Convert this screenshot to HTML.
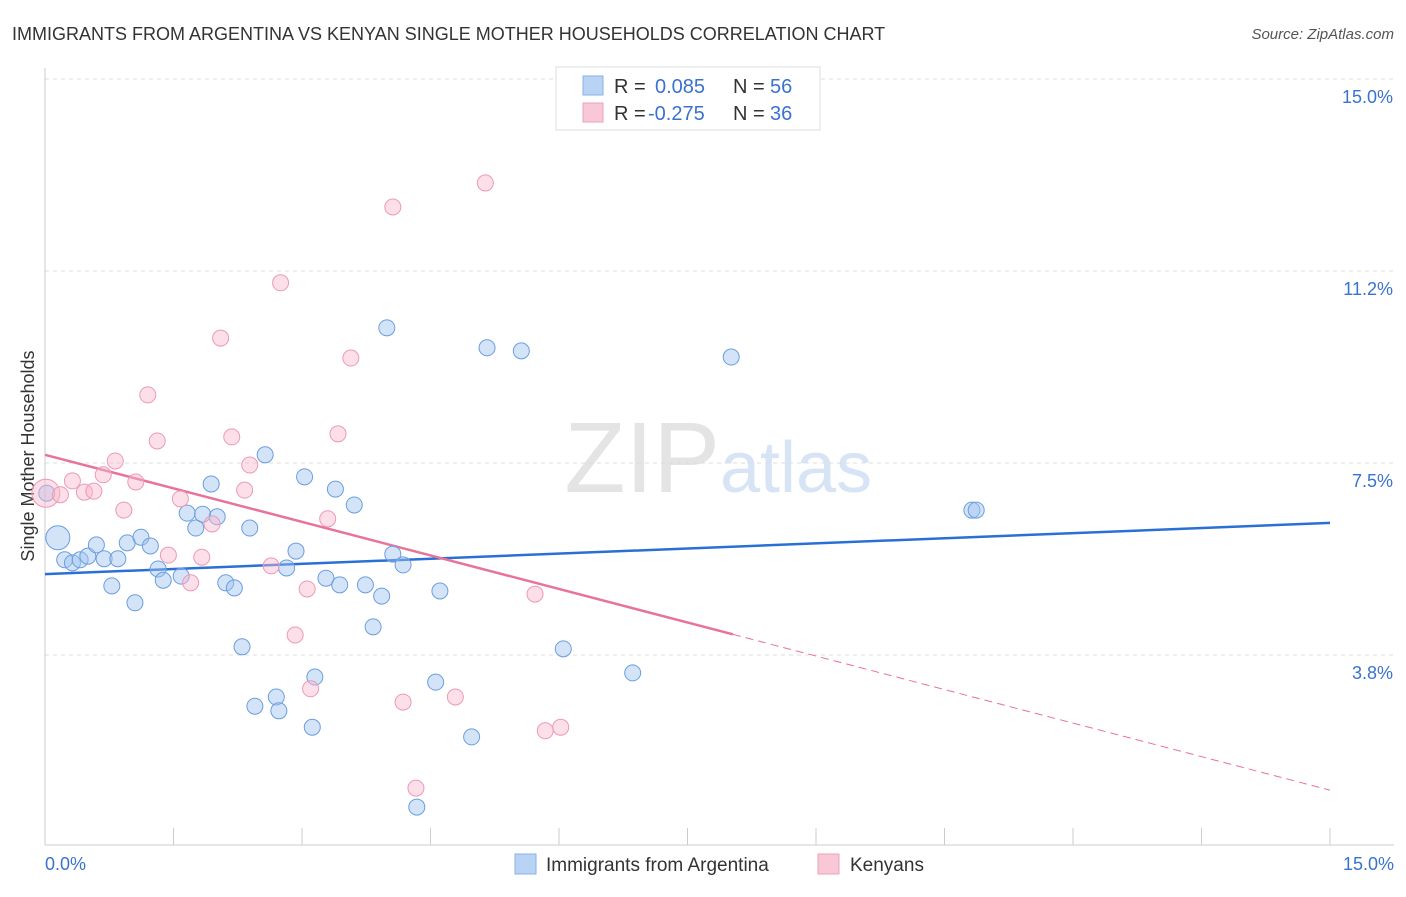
<!DOCTYPE html>
<html><head><meta charset="utf-8"><style>
body{margin:0;background:#fff;font-family:"Liberation Sans",sans-serif;}
svg text{font-family:"Liberation Sans",sans-serif;}
</style></head><body>
<svg id="chart" width="1406" height="892" xmlns="http://www.w3.org/2000/svg">
<text x="12" y="40" font-size="18" fill="#333">IMMIGRANTS FROM ARGENTINA VS KENYAN SINGLE MOTHER HOUSEHOLDS CORRELATION CHART</text>
<text x="1394" y="39" font-size="15" fill="#555" font-style="italic" text-anchor="end">Source: ZipAtlas.com</text>
<text x="720" y="492" font-size="100" fill="#e4e4e4" text-anchor="end" font-family="Liberation Serif">ZIP</text>
<text x="720" y="492" font-size="72" fill="#d6e4f5">atlas</text>
<text transform="translate(34,456) rotate(-90)" font-size="18" fill="#333" text-anchor="middle">Single Mother Households</text>
<g id="grid"></g><g id="ticks"></g><g id="trend"></g><g id="pts"></g>
<g>
<rect x="556" y="67" width="264" height="63" fill="#fff" stroke="#ddd"/>
<rect x="583" y="76" width="20" height="19" fill="#b9d3f5" stroke="#8ab0e8"/>
<text x="614" y="93" font-size="20" fill="#333">R =</text><text x="655" y="93" font-size="20" fill="#3a72d0">0.085</text>
<text x="733" y="93" font-size="20" fill="#333">N =</text><text x="770" y="93" font-size="20" fill="#3a72d0">56</text>
<rect x="583" y="103" width="20" height="19" fill="#f9c8d6" stroke="#eea0b8"/>
<text x="614" y="120" font-size="20" fill="#333">R =</text><text x="648" y="120" font-size="20" fill="#3a72d0">-0.275</text>
<text x="733" y="120" font-size="20" fill="#333">N =</text><text x="770" y="120" font-size="20" fill="#3a72d0">36</text>
</g>
<g>
<rect x="515" y="854" width="21" height="20" fill="#b9d3f5" stroke="#8ab0e8"/>
<text x="546" y="871" font-size="19" fill="#333">Immigrants from Argentina</text>
<rect x="818" y="854" width="21" height="20" fill="#f9c8d6" stroke="#eea0b8"/>
<text x="850" y="871" font-size="19" fill="#333">Kenyans</text>
</g>
</svg>
<script>
const xTicks=[0,1.5,3,4.5,6,7.5,9,10.5,12,13.5,15];
const yTicks=[3.75,7.5,11.25,15];
const yTickLabels=["3.8%","7.5%","11.2%","15.0%"];
const blueX=[0.15,0.23,0.32,0.41,0.50,0.60,0.69,0.78,0.85,0.96,1.05,1.12,1.23,1.32,1.38,1.59,1.66,1.76,1.84,1.94,2.01,2.11,2.21,2.30,2.39,2.45,2.57,2.70,2.73,2.82,2.93,3.03,3.12,3.15,3.28,3.39,3.44,3.61,3.74,3.83,3.93,3.99,4.06,4.18,4.34,4.56,4.61,4.98,5.16,5.56,6.05,6.86,8.01,10.82,10.87,0.02];
const blueY=[6.04,5.61,5.55,5.61,5.68,5.90,5.63,5.10,5.63,5.94,4.77,6.05,5.88,5.43,5.21,5.29,6.52,6.23,6.50,7.09,6.45,5.16,5.06,3.91,6.23,2.75,7.66,2.93,2.66,5.45,5.78,7.23,2.34,3.32,5.25,6.99,5.12,6.68,5.12,4.30,4.90,10.14,5.72,5.51,0.78,3.22,5.00,2.15,9.75,9.69,3.87,3.40,9.57,6.58,6.58,6.91];
const pinkX=[0.01,0.18,0.32,0.46,0.57,0.68,0.82,0.92,1.06,1.20,1.31,1.44,1.58,1.70,1.83,1.95,2.05,2.18,2.33,2.39,2.64,2.75,2.92,3.06,3.10,3.30,3.42,3.57,4.06,4.18,4.33,4.79,5.14,5.72,5.84,6.02];
const pinkY=[6.91,6.88,7.15,6.93,6.95,7.27,7.54,6.58,7.13,8.83,7.93,5.70,6.80,5.16,5.66,6.31,9.94,8.01,6.97,7.46,5.49,11.02,4.14,5.04,3.09,6.41,8.07,9.55,12.50,2.83,1.15,2.93,12.97,4.94,2.27,2.34];
const blueTrend=[5.33,6.33];
const pinkTrend=[7.66,1.11];
const pinkSolidEnd=8.03;
const X=v=>45+v*(1285/15), Y=v=>847-v*51.2;
const NS="http://www.w3.org/2000/svg";
function mk(t,a,p){const e=document.createElementNS(NS,t);for(const k in a)e.setAttribute(k,a[k]);p.appendChild(e);return e;}
const grid=document.getElementById('grid'),ticks=document.getElementById('ticks');
yTicks.forEach((v,i)=>{
 const l=mk('line',{x1:45,x2:1394,y1:Y(v),y2:Y(v),stroke:'#ddd','stroke-dasharray':'4,4'},grid);
 
 
 const t=mk('text',{x:1393,y:Y(v)+24,'font-size':18,fill:'#3a72d0','text-anchor':'end'},ticks);
 t.textContent=yTickLabels[i];
 
 
});
const ax=mk('line',{x1:45,x2:1394,y1:845,y2:845,stroke:'#ccc'},ticks);


const ay=mk('line',{x1:45,x2:45,y1:68,y2:845,stroke:'#ccc'},ticks);


xTicks.forEach(v=>{
 const l=mk('line',{x1:X(v),x2:X(v),y1:828,y2:845,stroke:'#ccc'},ticks);
 
 
});
const t0=mk('text',{x:45,y:870,'font-size':18,fill:'#3a72d0'},ticks);t0.textContent=xTicks[0].toFixed(1)+"%";


const t1=mk('text',{x:1394,y:870,'font-size':18,fill:'#3a72d0','text-anchor':'end'},ticks);t1.textContent=xTicks[10].toFixed(1)+"%";


const pts=document.getElementById('pts');
blueX.forEach((x,i)=>{
 const big=i===0;
 const c=mk('circle',{cx:X(x),cy:Y(blueY[i]),r:big?12:8,fill:'rgba(160,195,240,0.45)',stroke:'#6a9ee0','stroke-width':1},pts);
 
 
});
pinkX.forEach((x,i)=>{
 const big=i===0;
 const c=mk('circle',{cx:X(x),cy:Y(pinkY[i]),r:big?14:8,fill:'rgba(248,185,205,0.45)',stroke:'#ec9ab5','stroke-width':1},pts);
 
 
});
const tr=document.getElementById('trend');
const bl=mk('line',{x1:X(0),y1:Y(blueTrend[0]),x2:X(15),y2:Y(blueTrend[1]),stroke:'#2a6fd6','stroke-width':2.5},tr);


const py=v=>pinkTrend[0]+(pinkTrend[1]-pinkTrend[0])*v/15;
const pl=mk('line',{x1:X(0),y1:Y(py(0)),x2:X(pinkSolidEnd),y2:Y(py(pinkSolidEnd)),stroke:'#e8739a','stroke-width':2.5},tr);


const pd=mk('line',{x1:X(pinkSolidEnd),y1:Y(py(pinkSolidEnd)),x2:X(15),y2:Y(py(15)),stroke:'#e8739a','stroke-width':1,'stroke-dasharray':'8,5'},tr);


</script>
</body></html>
